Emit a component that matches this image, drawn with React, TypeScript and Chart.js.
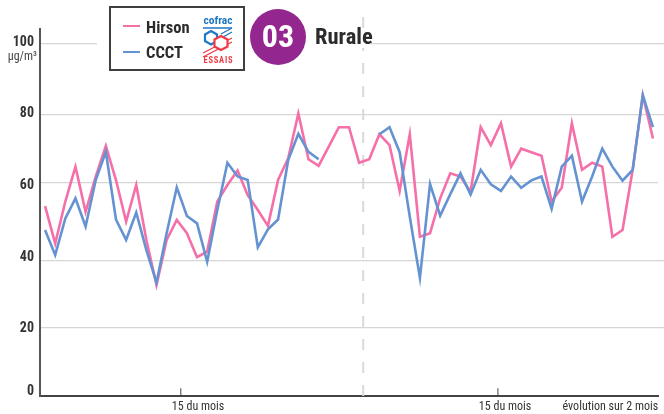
import React, { useEffect, useRef } from "react";
import { Chart, registerables } from "chart.js";

Chart.register(...registerables);

const hirson = [53.9, 43.3, 55.2, 65.1, 52.3, 62.3, 71, 61.3, 49.5, 59.9, 44.3, 31.5, 44.3, 50, 46.2, 39.4, 41, 55.2, 59.9, 64, 57, 52.8, 48.3, 61.3, 67.5, 80.2, 67.2, 65.3, 70.8, 76.3, 76.3, 66.2, 67.2, 74.3, 71.2, 58.2, 74.3, 45.2, 46.2, 56.1, 63.2, 62.3, 58, 76.3, 71.2, 77.4, 65.1, 70.2, 69.2, 68.2, 55.2, 59.1, 77.4, 64.2, 66.2, 65.1, 45.2, 47.1, 64.2, 85.4, 73.1];
const ccct: (number | null)[] = [47.1, 40, 50.4, 56.1, 48.1, 61.3, 69.3, 50.1, 44.3, 52.1, 41.4, 32.2, 46.2, 59.2, 51.1, 49, 38.1, 52.8, 66.2, 62.3, 61.3, 42.2, 47.3, 50.1, 67, 74.4, 69.3, 67.2, null, null, null, null, null, 74.3, 76.3, 69.2, 50.9, 33.5, 60.2, 51.2, 57.3, 63.2, 57.2, 64.2, 60.1, 58.2, 62.3, 59.1, 61.2, 62.3, 53.1, 65.1, 68.2, 55.2, 62.3, 70.2, 65.1, 61.1, 64.2, 85.4, 76.3];

const yTickLabels = ["0", "20", "40", "60", "80", "100"];
const yLabelValues = [1.4, 19.2, 39.3, 59.7, 80.2, 100.3];
const gridValues = [19.5, 38.5, 60.66, 79.8, 100];
const gridOverhang = [true, true, false, true, true];
const xTickLabels = ["15 du mois", "15 du mois", "évolution sur 2 mois"];
const xLabelValues = [15.1, 45.4, 55.8];
const monthTicks = [13.4, 44.7];
const separator = 31.4;
const narrow = '"Roboto Condensed", "Liberation Sans", sans-serif';

function toPoints(values: (number | null)[]) {
  return values.map((y, x) => ({ x, y }));
}

export default function App() {
  const ref = useRef<HTMLCanvasElement>(null);
  useEffect(() => {
    const chart = new Chart(ref.current!, {
      type: "line",
      data: {
        datasets: [
          {
            label: "Séparation",
            data: [{ x: separator, y: 0 }, { x: separator, y: 109.5 }],
            borderColor: "#d9d9d9",
            borderWidth: 2,
            borderDash: [11, 12],
            pointRadius: 0,
            clip: false,
            order: 5,
          },
          ...monthTicks.map((t) => ({
            label: "15",
            data: [{ x: t, y: 0 }, { x: t, y: 2.2 }],
            borderColor: "#444",
            borderWidth: 1,
            pointRadius: 0,
            order: 4,
          })),
          {
            label: "CCCT",
            data: toPoints(ccct),
            borderColor: "#6593d1",
            borderWidth: 2.6,
            pointRadius: 0,
            tension: 0,
            spanGaps: false,
            borderJoinStyle: "miter",
            order: 1,
          },
          {
            label: "Hirson",
            data: toPoints(hirson),
            borderColor: "#f56fa8",
            borderWidth: 2.6,
            pointRadius: 0,
            tension: 0,
            borderJoinStyle: "miter",
            order: 2,
          },
        ],
      },
      options: {
        animation: false,
        responsive: false,
        layout: { padding: { top: 29, left: 0, right: 0, bottom: 0 } },
        plugins: { legend: { display: false }, tooltip: { enabled: false } },
        scales: {
          x: {
            type: "linear",
            min: -0.5,
            max: 60.5,
            afterBuildTicks: (s: any) => {
              s.ticks = xLabelValues.map((value) => ({ value }));
            },
            afterFit: (s: any) => {
              s.height = 18;
              s.paddingLeft = 0;
              s.paddingRight = 0;
            },
            grid: { display: false, drawTicks: false },
            border: { color: "#444", width: 2 },
            ticks: {
              autoSkip: false,
              maxRotation: 0,
              padding: 4,
              color: "#333",
              font: { family: narrow, size: 12 },
              callback: (_v: any, i: number) => xTickLabels[i],
            },
          },
          y: {
            type: "linear",
            position: "left",
            min: 0,
            max: 104.17,
            afterBuildTicks: (s: any) => {
              s.ticks = yLabelValues.map((value) => ({ value }));
            },
            afterFit: (s: any) => {
              s.width = 40;
            },
            grid: { display: false, drawTicks: false },
            border: { color: "#555", width: 2 },
            ticks: {
              autoSkip: false,
              padding: 6,
              color: "#333",
              font: { family: narrow, size: 14, weight: "bold" },
              callback: (_v: any, i: number) => yTickLabels[i],
            },
          },
          yGrid: {
            type: "linear",
            position: "right",
            min: 0,
            max: 104.17,
            afterBuildTicks: (s: any) => {
              s.ticks = gridValues.map((value) => ({ value }));
            },
            border: { display: false },
            grid: {
              color: "#d6d6d6",
              lineWidth: 1.3,
              tickLength: 6,
              tickColor: (c: any) => (gridOverhang[c.index] ? "#d6d6d6" : "rgba(0,0,0,0)"),
            },
            ticks: { display: false },
          },
        },
      },
    } as any);
    return () => chart.destroy();
  }, []);

  const txt: React.CSSProperties = { position: "absolute", fontFamily: narrow, color: "#2b2b2b", whiteSpace: "nowrap", lineHeight: 1 };

  return (
    <div style={{ position: "fixed", left: 0, top: 0, width: 664, height: 414, background: "#fff", overflow: "hidden" }}>
      <canvas ref={ref} width={664} height={414} style={{ display: "block", position: "absolute", left: 0, top: 0 }} />
      <div style={{ position: "absolute", left: 97, top: 40, width: 274, height: 8, background: "#fff" }} />
      <div style={{ ...txt, right: 664 - 37, top: 50, fontSize: 12, color: "#444" }}>µg/m³</div>

      <div style={{ position: "absolute", left: 109, top: 6, width: 136, height: 65, boxSizing: "border-box", border: "2px solid #3f3f3f", background: "#fff" }} />
      <div style={{ position: "absolute", left: 123, top: 25, width: 17, height: 2, background: "#f56fa8" }} />
      <div style={{ position: "absolute", left: 123, top: 51, width: 17, height: 2, background: "#6593d1" }} />
      <div style={{ ...txt, left: 146, top: 20, fontSize: 16.5, fontWeight: 700 }}>Hirson</div>
      <div style={{ ...txt, left: 146, top: 45, fontSize: 16.5, fontWeight: 700 }}>CCCT</div>

      <svg style={{ position: "absolute", left: 201, top: 15 }} width={34} height={50} viewBox="0 0 34 50">
        <text x="17" y="9" textAnchor="middle" fontFamily={narrow} fontSize="11.5" fontWeight="700" fill="#2277c4" textLength="29" lengthAdjust="spacingAndGlyphs">cofrac</text>
        <line x1="2" y1="13" x2="31" y2="13" stroke="#2277c4" strokeWidth="1.5" />
        <path d="M20 19 L31 13 M22 22 L31 17" stroke="#2277c4" strokeWidth="1.3" fill="none" />
        <polygon points="10,16 16,19.5 16,26 10,29.5 4,26 4,19.5" fill="none" stroke="#1f78c8" strokeWidth="2.2" />
        <path d="M2 38 L31 23 M2 42 L31 27" stroke="#ef3b45" strokeWidth="1.3" fill="none" />
        <polygon points="20,21 26.5,24.5 26.5,31.5 20,35 13.5,31.5 13.5,24.5" fill="#fff" stroke="#ef3b45" strokeWidth="2.2" />
        <text x="17" y="48" textAnchor="middle" fontFamily={narrow} fontSize="8.5" fontWeight="700" fill="#ef3b45" textLength="29" lengthAdjust="spacing">ESSAIS</text>
      </svg>

      <div style={{ position: "absolute", left: 250, top: 9, width: 56, height: 56, borderRadius: "50%", background: "#93278f" }} />
      <div style={{ ...txt, left: 250, width: 56, top: 20, textAlign: "center", fontSize: 32, fontWeight: 700, color: "#fff" }}>03</div>
      <div style={{ ...txt, left: 315, top: 25, fontSize: 22.5, fontWeight: 700 }}>Rurale</div>
    </div>
  );
}
